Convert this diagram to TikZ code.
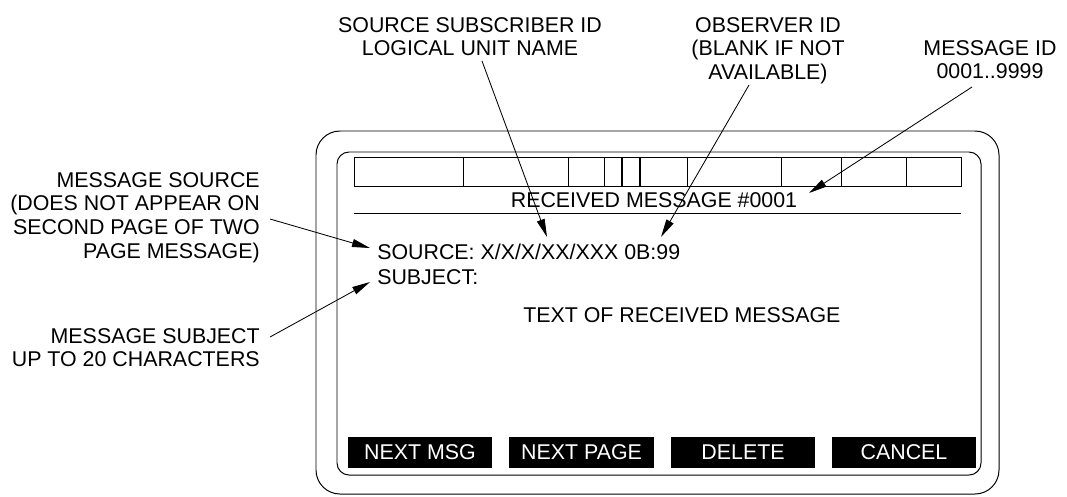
\documentclass[tikz,border=0pt]{standalone}
\usepackage{fontspec}
\setmainfont{Liberation Sans}
\usetikzlibrary{arrows.meta, positioning}

\begin{document}
\begin{tikzpicture}[
  x=0.025cm, y=-0.025cm,
  every node/.style={font=\fontsize{15.2}{16.8}\selectfont, inner sep=0pt},
  callout/.style={align=center, anchor=north},
  sidenote/.style={align=right, anchor=north east},
  softkey/.style={fill=black, text=white, minimum width=3.6cm, minimum height=0.775cm},
  frame/.style={line width=0.7pt},
  pointer/.style={line width=0.6pt, -{Triangle[length=0.45cm, width=0.2cm]}}
]
  \useasboundingbox (0,0) rectangle (1067,496);

  % housing and screen
  \draw[frame, rounded corners=0.6cm] (316,131) rectangle (999,494);
  \draw[frame, rounded corners=0.3cm] (337,152) rectangle (981,475);

  % status bar
  \draw[frame] (354,157) rectangle (961,186);
  \foreach \xx in {463,568,604,687,781,841,906}
    \draw[frame] (\xx,157) -- (\xx,186);
  \draw[line width=1.2pt] (622,157) -- (622,186) (640,157) -- (640,186);
  \draw[frame] (354,213) -- (961,213);

  % screen text
  \node[anchor=base] (title) at (654,207) {RECEIVED MESSAGE \#0001};
  \node[anchor=base west] (source) at (377,259) {SOURCE: X/X/X/XX/XXX 0B:99};
  \node[anchor=base west] (subject) at (377,284) {SUBJECT:};
  \node[anchor=base west] (body) at (523,322) {TEXT OF RECEIVED MESSAGE};

  % soft keys
  \node[softkey] (nextmsg) at (420,452.5) {NEXT MSG};
  \node[softkey] (nextpage) at (581.5,452.5) {NEXT PAGE};
  \node[softkey] (delete) at (743,452.5) {DELETE};
  \node[softkey] (cancel) at (904,452.5) {CANCEL};

  % callouts
  \node[callout] (subscid) at (470,17) {SOURCE SUBSCRIBER ID\\LOGICAL UNIT NAME};
  \node[callout] (obsid) at (768,17) {OBSERVER ID\\(BLANK IF NOT\\AVAILABLE)};
  \node[callout] (msgid) at (990,40) {MESSAGE ID\\0001..9999};
  \node[sidenote] (msgsrc) at (260,172) {MESSAGE SOURCE\\(DOES NOT APPEAR ON\\SECOND PAGE OF TWO\\PAGE MESSAGE)};
  \node[sidenote] (msgsubj) at (260,328) {MESSAGE SUBJECT\\UP TO 20 CHARACTERS};

  \coordinate (subscfrom) at (482,61);
  \coordinate (subscto) at (547,237);
  \coordinate (obsfrom) at (749,85);
  \coordinate (obsto) at (661,237);
  \coordinate (msgidfrom) at (972,87);
  \coordinate (msgidto) at (809,193);
  \coordinate (srcfrom) at (270,219);
  \coordinate (srcto) at (370,248);
  \coordinate (subjfrom) at (270,337);
  \coordinate (subjto) at (370,282);

  \draw[pointer] (subscfrom) -- (subscto);
  \draw[pointer] (obsfrom) -- (obsto);
  \draw[pointer] (msgidfrom) -- (msgidto);
  \draw[pointer] (srcfrom) -- (srcto);
  \draw[pointer] (subjfrom) -- (subjto);
\end{tikzpicture}
\end{document}
